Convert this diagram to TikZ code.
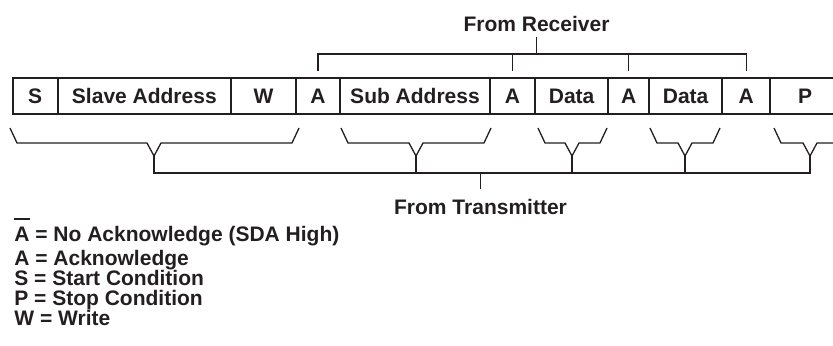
\documentclass[tikz,border=0pt]{standalone}
\usepackage{fontspec}
\setmainfont{Liberation Sans}
\definecolor{ink}{RGB}{35,31,32}
\newcommand\txbrace[4]{%
  \draw[brline] (#1,128) -- (#1+7,143) -- (#2-7,143) -- (#2,156) -- (#2+7,143) -- (#3-7,143) -- (#3,128);
  \coordinate (#4) at (#2,156);}
\begin{document}
\begin{tikzpicture}[x=0.5pt,y=-0.5pt,
  every node/.style={text=ink, font=\bfseries\fontsize{10.5}{12}\selectfont},
  cell/.style={draw=ink, line width=1.1pt, minimum height=18pt, inner sep=0pt, outer sep=0pt, anchor=west, text depth=0pt, text height=7.6pt},
  opencell/.style={cell, draw=none},
  brline/.style={draw=ink, line width=0.65pt, line join=miter},
  boxline/.style={draw=ink, line width=1.1pt},
  label/.style={inner sep=0pt, anchor=base, text depth=0pt},
  legend/.style={inner sep=0pt, anchor=base west}]
\useasboundingbox (0,0) rectangle (833,346);
% frame cells
\node[cell, minimum width=22.5pt] (s) at (12.7,96) {S};
\node[cell, minimum width=86.65pt] (sa) at (s.east) {Slave Address};
\node[cell, minimum width=32.5pt] (w) at (sa.east) {W};
\node[cell, minimum width=22pt] (a1) at (w.east) {A};
\node[cell, minimum width=75pt] (sub) at (a1.east) {Sub Address};
\node[cell, minimum width=22.5pt] (a2) at (sub.east) {A};
\node[cell, minimum width=36.65pt] (d1) at (a2.east) {Data};
\node[cell, minimum width=20.35pt] (a3) at (d1.east) {A};
\node[cell, minimum width=36.65pt] (d2) at (a3.east) {Data};
\node[cell, minimum width=23.85pt] (a4) at (d2.east) {A};
\node[opencell, minimum width=35pt] (p) at (a4.east) {P};
\draw[boxline] (a4.north east) -- ++(66,0);
\draw[boxline] (a4.south east) -- ++(66,0);
% from receiver
\node[label] (recv) at (536.5,32) {From Receiver};
\coordinate (rt) at (0,54);
\draw[brline] ([yshift=3.5pt]a1.north) -- (a1.north |- rt) -- (a4.north |- rt) -- ([yshift=3.5pt]a4.north);
\draw[brline] (a2.north |- rt) -- ([yshift=3.5pt]a2.north);
\draw[brline] (a3.north |- rt) -- ([yshift=3.5pt]a3.north);
\draw[brline] ([yshift=-2.5pt]recv.south) -- (recv.south |- rt);
% from transmitter
\txbrace{10}{154}{299}{t1}
\txbrace{341}{416}{491}{t2}
\txbrace{538}{572}{607}{t3}
\txbrace{650}{685}{720}{t4}
\draw[brline] (774,128) -- (781,143) -- (803,143) -- (810,156) -- (817,143) -- (834,143);
\coordinate (t5) at (810,156);
\coordinate (bl) at (0,173);
\draw[brline] (t1) -- (t1 |- bl) -- (t5 |- bl) -- (t5);
\draw[brline] (t2) -- (t2 |- bl);
\draw[brline] (t3) -- (t3 |- bl);
\draw[brline] (t4) -- (t4 |- bl);
\node[label] (trans) at (480.5,215) {From Transmitter};
\draw[brline] ([yshift=5pt]trans.north) -- (trans.north |- bl);
% legend
\node[legend] (l1) at (14,242) {\rlap{\rule[11pt]{7.6pt}{1pt}}A = No Acknowledge (SDA High)};
\node[legend] (l2) at (14,266) {A = Acknowledge};
\node[legend] (l3) at (14,286) {S = Start Condition};
\node[legend] (l4) at (14,306) {P = Stop Condition};
\node[legend] (l5) at (14,326) {W = Write};
\end{tikzpicture}
\end{document}
